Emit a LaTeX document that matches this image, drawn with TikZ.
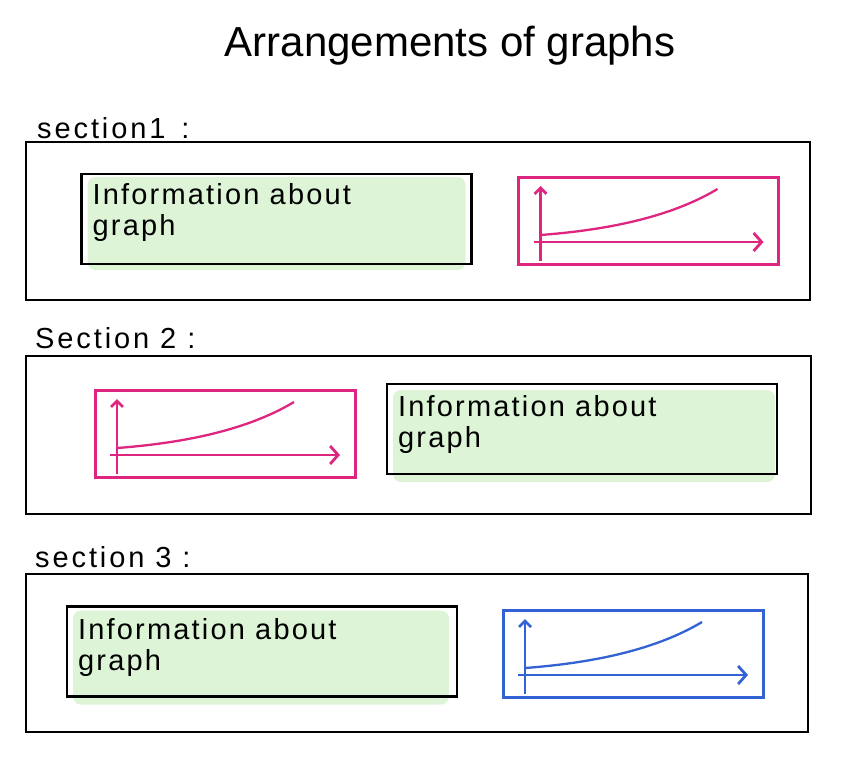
\documentclass[tikz,border=0pt]{standalone}
\usepackage{fontspec}
\setmainfont{Liberation Sans}
\newfontfamily\handfont[LetterSpace=7.5]{Liberation Sans}
\newfontfamily\labelfont[LetterSpace=10]{Liberation Sans}
\usetikzlibrary{calc, arrows.meta, backgrounds}

\definecolor{graphpink}{RGB}{222,38,128}
\definecolor{graphblue}{RGB}{50,98,212}
\definecolor{notegreen}{RGB}{221,245,214}

% axes and curve of a small graph sketch inside box #1, drawn in colour #2
\newcommand{\axessketch}[2]{%
  \coordinate (#1-ybot) at ($(#1.north west)+(22,84)$);
  \coordinate (#1-ytop) at ($(#1.north west)+(22,9)$);
  \coordinate (#1-xl) at ($(#1.north west)+(15,65)$);
  \coordinate (#1-xr) at ($(#1.north west)+(245,65)$);
  \coordinate (#1-c0) at ($(#1.north west)+(22,58)$);
  \coordinate (#1-c1) at ($(#1.north west)+(199,12)$);
  \draw[#2, line width=2.8pt, -{Straight Barb[length=6pt, width=12pt]}] (#1-ybot) -- (#1-ytop);
  \draw[#2, line width=2.8pt, -{Straight Barb[length=8pt, width=18pt]}] (#1-xl) -- (#1-xr);
  \draw[#2, line width=2.3pt] (#1-c0) .. controls ($(#1-c0)+(80,-6)$) and ($(#1-c1)+(-40,24)$) .. (#1-c1);
}

\begin{document}
\begin{tikzpicture}[x=1pt, y=-1pt,
  box/.style args={#1/#2}{draw, rectangle, inner sep=0pt, outer sep=0pt,
    minimum width=#1pt, minimum height=#2pt},
  sectionbox/.style={box=#1, line width=2.4pt},
  infobox/.style={box=390/90, line width=2.6pt},
  graphbox/.style={box=260/87, line width=3pt, draw=#1},
  infotext/.style={anchor=north west, align=left, inner sep=0pt,
    font=\handfont\fontsize{29}{31}\selectfont},
  label/.style={anchor=west, inner sep=0pt, font=\labelfont\fontsize{29}{30}\selectfont}]
  \useasboundingbox (0,0) rectangle (845,766);

  \node[font=\fontsize{42}{46}\selectfont] (title) at (450,46) {Arrangements of graphs};

  % section 1
  \node[label] (lab1) at (37,128) {section1 \,:};
  \node[sectionbox=784/158] (s1) at (418,221) {};
  \node[infobox] (i1) at (276.5,219) {};
  \node[graphbox=graphpink] (g1) at (648.5,220.5) {};

  % section 2
  \node[label] (lab2) at (35,338) {Section 2 :};
  \node[sectionbox=785/158] (s2) at (418.5,435) {};
  \node[graphbox=graphpink] (g2) at (225,433.5) {};
  \node[infobox] (i2) at (582,429) {};

  % section 3
  \node[label] (lab3) at (35,557) {section 3 :};
  \node[sectionbox=782/158] (s3) at (417,653) {};
  \node[infobox] (i3) at (262,651.5) {};
  \node[graphbox=graphblue] (g3) at (633,653.5) {};

  \begin{scope}[on background layer]
    \fill[notegreen, rounded corners=8pt] ($(i1.north west)+(6,3)$) rectangle ($(i1.south east)+(-6,6)$);
    \fill[notegreen, rounded corners=8pt] ($(i2.north west)+(6,6)$) rectangle ($(i2.south east)+(-2,8)$);
    \fill[notegreen, rounded corners=8pt] ($(i3.north west)+(6,4)$) rectangle ($(i3.south east)+(-8,8)$);
  \end{scope}

  \node[infotext] (t1) at ($(i1.north west)+(11,9)$) {Information about\\graph};
  \node[infotext] (t2) at ($(i2.north west)+(11,11)$) {Information about\\graph};
  \node[infotext] (t3) at ($(i3.north west)+(11,12)$) {Information about\\graph};

  \axessketch{g1}{graphpink}
  \axessketch{g2}{graphpink}
  \axessketch{g3}{graphblue}
\end{tikzpicture}
\end{document}
